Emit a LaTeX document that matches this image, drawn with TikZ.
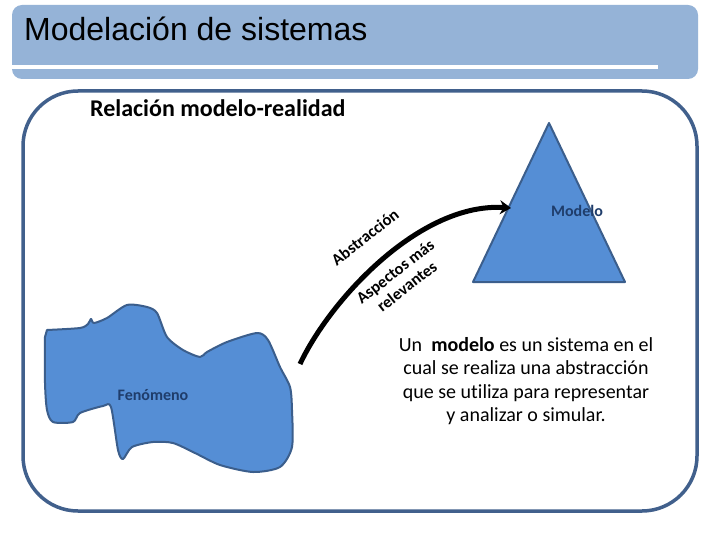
\documentclass[tikz,border=0pt]{standalone}
\usepackage{fontspec}
\setmainfont{Carlito}[Ligatures=NoCommon]
\newfontfamily\titlefont{Liberation Sans}
\usetikzlibrary{positioning,arrows.meta}

\definecolor{barblue}{HTML}{95B3D7}
\definecolor{frameblue}{HTML}{41608C}
\definecolor{shapefill}{HTML}{558ED5}
\definecolor{shapeline}{HTML}{3B5E8C}
\definecolor{labelblue}{HTML}{1F3D6B}

\tikzset{
  shapelabel/.style={font=\fontsize{16}{18}\selectfont\bfseries, text=labelblue},
  arrowlabel/.style={font=\fontsize{16.5}{19}\selectfont\bfseries, rotate=38, inner sep=0pt, align=center},
  bluebody/.style={fill=shapefill, draw=shapeline, line width=2pt, line join=round}
}

\begin{document}
\begin{tikzpicture}[x=1pt, y=-1pt]
    \useasboundingbox (0,0) rectangle (720,540);
    \fill[white] (0,0) rectangle (720,540);

    % title bar
    \fill[barblue, rounded corners=10pt] (12,5) rectangle (698,79);
    \fill[white] (12,65) rectangle (658,69);
    \node[anchor=west, font=\titlefont\fontsize{32}{36}\selectfont, inner sep=0pt] (title) at (24,29) {Modelación de sistemas};

    % main panel
    \draw[frameblue, line width=3.5pt, rounded corners=55pt] (23,91) rectangle (697,511);
    \node[anchor=west, font=\fontsize{24}{28}\selectfont\bfseries, inner sep=0pt] (heading) at (90,108) {Relación modelo-realidad};

    % phenomenon
    \draw[bluebody] plot[smooth, tension=0.45] coordinates {
        (47,330) (80,328) (88,324) (91,319) (94,323) (107,318) (127,305) (147,307)
        (157,313) (167,337) (183,350) (200,357) (207,352) (227,342) (257,333) (268,340)
        (280,367) (290,387) (292,410) (292,447) (280,467) (253,472) (220,465) (195,453)
        (173,443) (153,442) (132,447) (123,459) (118,450) (111,407) (103,406) (80,413)
        (73,422) (53,422) (47,410) (45,383) (45,337)} -- cycle;
    \node[shapelabel] (fenomeno) at (153,395) {Fenómeno};

    % model
    \draw[bluebody] (549,123) -- (625,282) -- (473,282) -- cycle;
    \node[shapelabel] (modelo) at (577,211) {Modelo};

    % abstraction arrow
    \coordinate (arrStart) at (300,364);
    \coordinate (arrEnd) at (511,208);
    \draw[line width=5pt, -{Stealth[length=11pt, width=14pt]}] (arrStart) .. controls (330,300) and (420,202) .. (arrEnd);
    \node[arrowlabel] (abstr) at (365,237) {Abstracción};
    \node[arrowlabel] (aspect) at (401,279) {Aspectos más\\relevantes};

    % definition
    \node[align=center, font=\fontsize{20}{23.5}\selectfont, inner sep=0pt] (defin) at (526,381)
        {Un\ \ \textbf{modelo} es un sistema en el\\cual se realiza una abstracción\\que se utiliza para representar\\y analizar o simular.};
\end{tikzpicture}
\end{document}
